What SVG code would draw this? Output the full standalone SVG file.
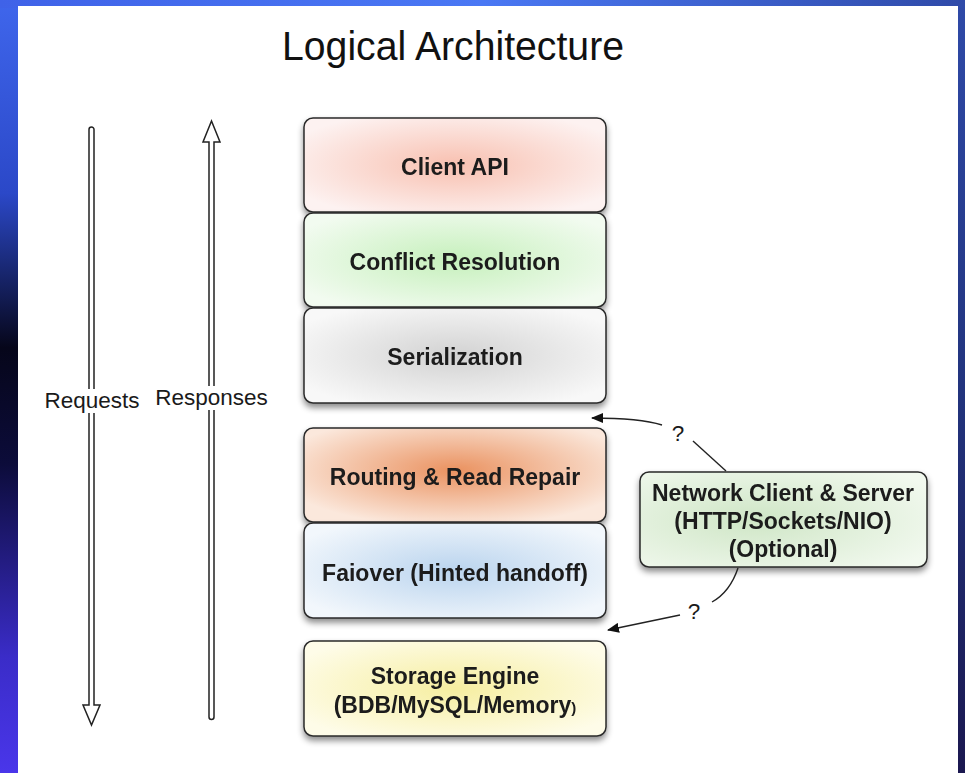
<svg xmlns="http://www.w3.org/2000/svg" width="965" height="773" viewBox="0 0 965 773">
<defs>
<linearGradient id="bgL" x1="0" y1="0" x2="0" y2="1">
<stop offset="0" stop-color="#3f66ec"/>
<stop offset="0.25" stop-color="#2b48c8"/>
<stop offset="0.45" stop-color="#06061a"/>
<stop offset="0.6" stop-color="#0c0c3a"/>
<stop offset="0.85" stop-color="#3a2cc8"/>
<stop offset="1" stop-color="#4a36ea"/>
</linearGradient>
<linearGradient id="bgR" x1="0" y1="0" x2="0" y2="1">
<stop offset="0" stop-color="#2f4aa8"/>
<stop offset="0.5" stop-color="#22347e"/>
<stop offset="1" stop-color="#1b1850"/>
</linearGradient>
<linearGradient id="bgT" x1="0" y1="0" x2="1" y2="0">
<stop offset="0" stop-color="#3f62e8"/>
<stop offset="0.5" stop-color="#4a78f4"/>
<stop offset="1" stop-color="#2f4aa8"/>
</linearGradient>
<radialGradient id="gRed" cx="0.5" cy="0.5" r="0.6"><stop offset="0" stop-color="#f8c0b0"/><stop offset="1" stop-color="#fdf2f1"/></radialGradient>
<radialGradient id="gGreen" cx="0.5" cy="0.5" r="0.6"><stop offset="0" stop-color="#c6f0bc"/><stop offset="1" stop-color="#f2fbf0"/></radialGradient>
<radialGradient id="gGrey" cx="0.5" cy="0.5" r="0.6"><stop offset="0" stop-color="#d2d2d2"/><stop offset="1" stop-color="#f8f8f8"/></radialGradient>
<radialGradient id="gOrange" cx="0.5" cy="0.45" r="0.6"><stop offset="0" stop-color="#ea9260"/><stop offset="1" stop-color="#fbe8dc"/></radialGradient>
<radialGradient id="gBlue" cx="0.5" cy="0.5" r="0.6"><stop offset="0" stop-color="#bad4ee"/><stop offset="1" stop-color="#f2f7fc"/></radialGradient>
<radialGradient id="gYellow" cx="0.5" cy="0.5" r="0.6"><stop offset="0" stop-color="#f6eea0"/><stop offset="1" stop-color="#fefce8"/></radialGradient>
<radialGradient id="gNet" cx="0.4" cy="0.5" r="0.7"><stop offset="0" stop-color="#cfe6c6"/><stop offset="1" stop-color="#f2f9ef"/></radialGradient>
<filter id="sh" x="-10%" y="-10%" width="120%" height="130%">
<feDropShadow dx="0" dy="4" stdDeviation="3" flood-color="#000" flood-opacity="0.45"/>
</filter>
<marker id="ah" viewBox="0 0 12 10" refX="11" refY="5" markerWidth="12" markerHeight="10" markerUnits="userSpaceOnUse" orient="auto">
<path d="M0 0 L12 5 L0 10 Z" fill="#111"/>
</marker>
<style>
.box{stroke:#2a2a2a;stroke-width:1.5}
.lbl{font-family:"Liberation Sans",Arial,Helvetica,sans-serif;font-weight:bold;font-size:23px;fill:#1a1a1a;text-anchor:middle}
.reg{font-family:"Liberation Sans",Arial,Helvetica,sans-serif;font-size:22.5px;fill:#1a1a1a;text-anchor:middle}
.conn{fill:none;stroke:#222;stroke-width:1.4}
.bigarrow{fill:#fff;stroke:#222;stroke-width:1.5}
</style>
</defs>
<rect x="0" y="0" width="965" height="773" fill="url(#bgL)"/>
<rect x="940" y="0" width="25" height="773" fill="url(#bgR)"/>
<rect x="0" y="0" width="965" height="8" fill="url(#bgT)"/>
<rect x="18" y="6" width="940" height="767" fill="#fff"/>

<g id="title">
<text x="453" y="60" font-family="'Liberation Sans',Arial,Helvetica,sans-serif" font-size="40" fill="#111" text-anchor="middle" textLength="342" lengthAdjust="spacingAndGlyphs">Logical Architecture</text>
</g>

<g id="requests">
<path class="bigarrow" d="M89 705 V129.5 A2.5 2.5 0 0 1 94 129.5 V705 H100 L91.5 725 L83 705 Z"/>
<rect x="84" y="389" width="16" height="24" fill="#fff"/>
<text class="reg" x="92" y="408">Requests</text>
</g>
<g id="responses">
<path class="bigarrow" d="M209 142 V717 A2.5 2.5 0 0 0 214 717 V142 H220 L211.5 121 L203 142 Z"/>
<rect x="203" y="386" width="16" height="24" fill="#fff"/>
<text class="reg" x="211.5" y="405">Responses</text>
</g>

<g id="client-api" filter="url(#sh)">
<rect class="box" x="304" y="118" width="302" height="94" rx="9" fill="url(#gRed)"/>
<text class="lbl" x="455" y="175">Client API</text>
</g>
<g id="conflict-resolution" filter="url(#sh)">
<rect class="box" x="304" y="213" width="302" height="94" rx="9" fill="url(#gGreen)"/>
<text class="lbl" x="455" y="270">Conflict Resolution</text>
</g>
<g id="serialization" filter="url(#sh)">
<rect class="box" x="304" y="308" width="302" height="95" rx="9" fill="url(#gGrey)"/>
<text class="lbl" x="455" y="365">Serialization</text>
</g>
<g id="routing" filter="url(#sh)">
<rect class="box" x="304" y="428" width="302" height="94" rx="9" fill="url(#gOrange)"/>
<text class="lbl" x="455" y="485">Routing &amp; Read Repair</text>
</g>
<g id="failover" filter="url(#sh)">
<rect class="box" x="304" y="523" width="302" height="95" rx="9" fill="url(#gBlue)"/>
<text class="lbl" x="455" y="581">Faiover (Hinted handoff)</text>
</g>
<g id="storage-engine" filter="url(#sh)">
<rect class="box" x="304" y="641" width="302" height="95" rx="9" fill="url(#gYellow)"/>
<text class="lbl" x="455" y="684">Storage Engine</text>
<text class="lbl" x="455" y="713">(BDB/MySQL/Memory<tspan font-size="15">)</tspan></text>
</g>
<g id="network" filter="url(#sh)">
<rect class="box" x="640" y="472" width="287" height="95" rx="9" fill="url(#gNet)"/>
<text class="lbl" x="783" y="501">Network Client &amp; Server</text>
<text class="lbl" x="783" y="529">(HTTP/Sockets/NIO)</text>
<text class="lbl" x="783" y="557">(Optional)</text>
</g>

<g id="connectors">
<path class="conn" d="M726 471 L693 441"/>
<path class="conn" d="M662 425 Q640 418 592 418" marker-end="url(#ah)"/>
<text class="reg" x="678" y="441">?</text>
<path class="conn" d="M738 568 Q730 592 712 602"/>
<path class="conn" d="M680 615 L608 630" marker-end="url(#ah)"/>
<text class="reg" x="694" y="619">?</text>
</g>
</svg>
